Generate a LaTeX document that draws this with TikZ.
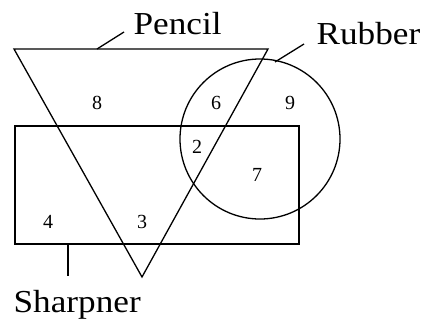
\documentclass[tikz,border=0pt]{standalone}
\usepackage{fontspec}
\setmainfont{Liberation Serif}
\newfontfamily\namefont[FakeStretch=1.1]{Liberation Serif}
\usetikzlibrary{positioning,calc}

\begin{document}
\begin{tikzpicture}[x=1pt, y=-1pt, line width=1.3pt,
    setname/.style={font=\namefont\fontsize{32}{32}\selectfont, inner sep=0pt, anchor=base west},
    count/.style={font=\fontsize{20}{20}\selectfont, inner sep=0pt}]
    \useasboundingbox (0,0) rectangle (433,321);

    % The three sets
    \draw (14,49) -- (268,49) -- (142,277) -- cycle;   % Pencil
    \draw (260,139) circle (80pt);                     % Rubber
    \draw (15,126) rectangle (299,244);                % Sharpner

    % Set names
    \node[setname] (pencil) at (133,35) {Pencil};
    \node[setname] (rubber) at (316,45) {Rubber};
    \node[setname] (sharpner) at (13,312) {Sharpner};

    % Leader lines
    \coordinate (pencilfoot) at (97,49);
    \coordinate (rubberfoot) at (275,62);
    \coordinate (sharpnerfoot) at (68,244);
    \draw (pencilfoot) -- ($(pencil.base west)+(-9,-3)$);
    \draw (rubberfoot) -- ($(rubber.base west)+(-12,-1)$);
    \draw (sharpnerfoot) -- ($(sharpner.base west)+(55,-36)$);

    % Counts in each region
    \node[count] (n8) at (97,103) {8};
    \node[count] (n6) at (216,103) {6};
    \node[count] (n9) at (290,103) {9};
    \node[count] (n2) at (197,147) {2};
    \node[count] (n7) at (257,175) {7};
    \node[count] (n4) at (48,222) {4};
    \node[count] (n3) at (142,222) {3};
\end{tikzpicture}
\end{document}
